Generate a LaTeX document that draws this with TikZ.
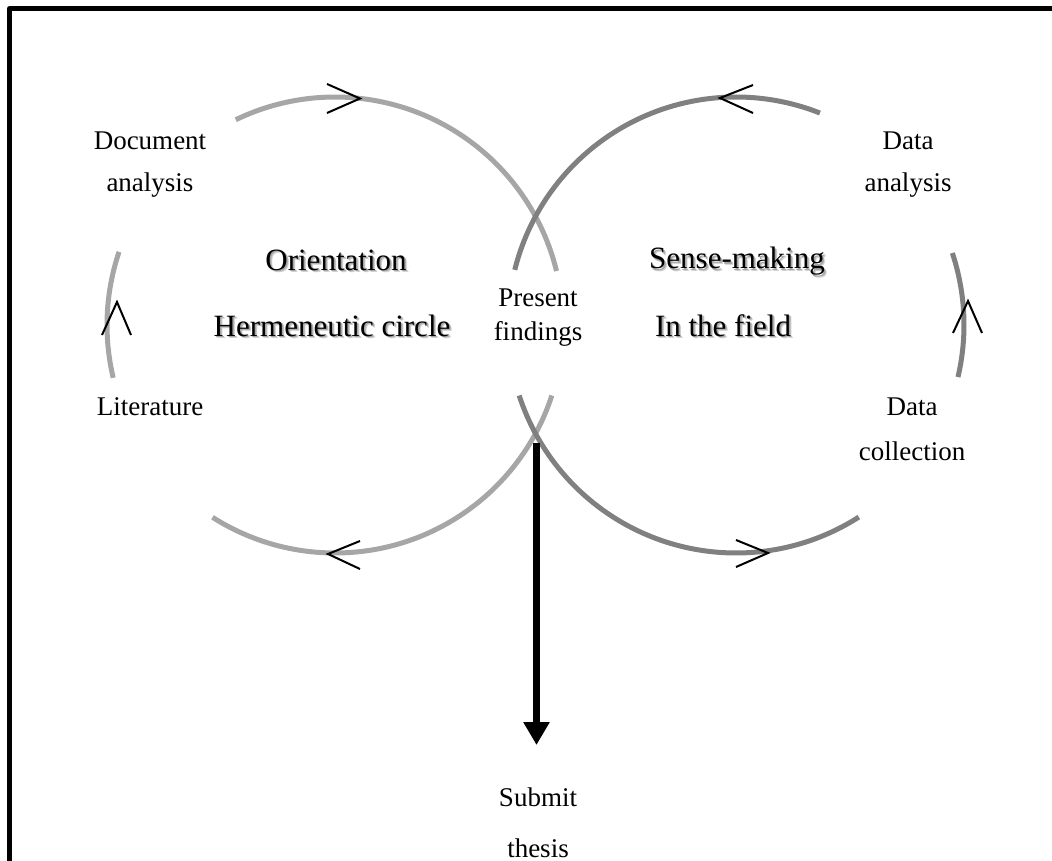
\documentclass[tikz,border=0pt]{standalone}
\usepackage{fontspec}
\setmainfont{Liberation Serif}
\usetikzlibrary{arrows.meta,calc}

\definecolor{lightarc}{HTML}{A6A6A6}
\definecolor{darkarc}{HTML}{808080}

% title text with a soft drop shadow behind it
\newcommand\shadowedtitle[1]{%
  \makebox[0pt][l]{\kern2.5pt\raisebox{-2.5pt}{\textcolor{black!18}{#1}}}%
  \makebox[0pt][l]{\kern1.5pt\raisebox{-1.5pt}{\textcolor{black!35}{#1}}}%
  #1}

\tikzset{
  lefttrack/.style={draw=lightarc, line width=5pt},
  righttrack/.style={draw=darkarc, line width=5pt},
  chevron/.style={draw=black, line width=2pt, line join=miter},
  smalllabel/.style={anchor=base, inner sep=0pt, font=\fontsize{27}{32}\selectfont},
  biglabel/.style={anchor=base, inner sep=0pt, font=\fontsize{31}{36}\selectfont},
  thickarrow/.style={line width=7pt, -{Triangle[width=25pt,length=23pt]}},
}

\begin{document}
\begin{tikzpicture}[x=1pt, y=-1pt]
\useasboundingbox (0,0) rectangle (1052,861);

% outer frame (only the left and top sides lie on the page)
\draw[line width=5pt, line join=round] (9.5,870) -- (9.5,8.5) -- (1060,8.5);

% circle centres
\coordinate (lc) at (335,325);
\coordinate (rc) at (736,325);

% left cycle: orientation
\draw[lefttrack] ($(lc)+(-115.8:228)$) arc[start angle=-115.8, end angle=-13.7, radius=228];
\draw[lefttrack] ($(lc)+(166.6:228)$) arc[start angle=166.6, end angle=198.7, radius=228];
\draw[lefttrack] ($(lc)+(18:228)$) arc[start angle=18, end angle=122.5, radius=228];

% right cycle: sense-making
\draw[righttrack] ($(rc)+(-166:228)$) arc[start angle=-166, end angle=-68.4, radius=228];
\draw[righttrack] ($(rc)+(-18.4:228)$) arc[start angle=-18.4, end angle=13.2, radius=228];
\draw[righttrack] ($(rc)+(57.4:228)$) arc[start angle=57.4, end angle=162, radius=228];

% direction marks on the cycles
\draw[chevron] (327,84) -- (360,98.5) -- (327,113);
\draw[chevron] (753,85) -- (720,98) -- (753,113);
\draw[chevron] (102,335) -- (117,302) -- (131,335);
\draw[chevron] (953,333) -- (968,301) -- (982,333);
\draw[chevron] (360,541) -- (328,554) -- (360,569);
\draw[chevron] (736,540) -- (768,553) -- (736,567);

% side labels
\node[smalllabel] (doc1) at (150,150) {Document};
\node[smalllabel] (doc2) at (150,192) {analysis};
\node[smalllabel] (lit) at (150,415) {Literature};
\node[smalllabel] (dana1) at (908,150) {Data};
\node[smalllabel] (dana2) at (908,192) {analysis};
\node[smalllabel] (dcol1) at (912,415) {Data};
\node[smalllabel] (dcol2) at (912,460) {collection};
\node[smalllabel] (pres1) at (538,306) {Present};
\node[smalllabel] (pres2) at (538,340) {findings};
\node[smalllabel] (sub1) at (538,806) {Submit};
\node[smalllabel] (sub2) at (538,857) {thesis};

% phase titles
\node[biglabel] (orient) at (336,270) {\shadowedtitle{Orientation}};
\node[biglabel] (herm) at (332,336) {\shadowedtitle{Hermeneutic circle}};
\node[biglabel] (sense) at (737,269) {\shadowedtitle{Sense-making}};
\node[biglabel] (field) at (723,336) {\shadowedtitle{In the field}};

% final step
\coordinate (crossbot) at (536.5,443);
\coordinate (subtop) at (536.5,745);
\draw[thickarrow] (crossbot) -- (subtop);
\end{tikzpicture}
\end{document}
